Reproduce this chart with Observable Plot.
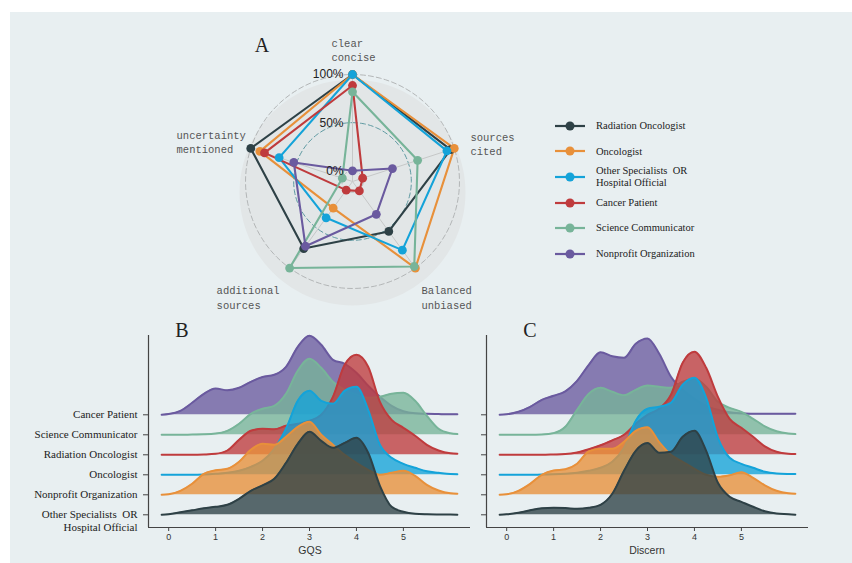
<!DOCTYPE html>
<html>
<head>
<meta charset="utf-8">
<script src="https://cdn.jsdelivr.net/npm/d3@7"></script>
<script src="https://cdn.jsdelivr.net/npm/@observablehq/plot@0.6"></script>
<style>
html,body{margin:0;padding:0;background:#fff;}
body{width:852px;height:563px;position:relative;overflow:hidden;}
#panel{position:absolute;left:10px;top:12px;right:0;bottom:0;background:#e8eff1;}
.abs{position:absolute;}
.tag{position:absolute;font-family:"Liberation Serif",serif;font-size:20px;color:#222;line-height:1;transform:translate(-50%,-50%);}
.axt{position:absolute;font-family:"Liberation Sans",Arial,sans-serif;font-size:10.5px;color:#333;transform:translate(-50%,-50%);white-space:nowrap;}
#legend{position:absolute;left:553px;top:113px;font-family:"Liberation Serif",serif;font-size:10.5px;color:#222;}
.li{display:flex;align-items:center;height:25.6px;}
.li svg{margin-right:9px;flex:none;}
.li span{line-height:11.5px;white-space:pre;}
svg.plot, .abs svg{background:transparent !important;overflow:visible;}
</style>
</head>
<body>
<div id="panel"></div>
<div id="radar" class="abs" style="left:152px;top:16px"></div>
<div id="legend"></div>
<div id="ridgeB" class="abs" style="left:20px;top:325px"></div>
<div id="ridgeC" class="abs" style="left:476px;top:325px"></div>
<div class="tag" style="left:262px;top:45px">A</div>
<div class="tag" style="left:182px;top:330px">B</div>
<div class="tag" style="left:530px;top:330px">C</div>
<div class="axt" style="left:310px;top:550px">GQS</div>
<div class="axt" style="left:647px;top:550px">Discern</div>
<script>
// ---------- Radar (A) data ----------
const axisLabels = ["clear\nconcise", "sources\ncited", "Balanced\nunbiased", "additional\nsources", "uncertainty\nmentioned"];
const gridLevels = [0, 0.5, 1];
const gridLabels = ["0%", "50%", "100%"];
const groupNames = ["Radiation Oncologist", "Oncologist", "Other Specialists\u00a0 OR\nHospital Official", "Cancer Patient", "Science Communicator", "Nonprofit Organization"];
const groupColors = ["#2e4146", "#e8903a", "#14a3d9", "#bf3b3d", "#77b499", "#6a5a9f"];
const radiationOncologist   = [1.00, 0.96, 0.53, 0.75, 1.00];
const oncologist            = [1.00, 1.00, 1.00, 0.23, 0.90];
const otherSpecialists      = [1.00, 0.92, 0.77, 0.355, 0.69];
const cancerPatient         = [0.886, 0.00, 0.01, 0.00, 0.85];
const scienceCommunicator   = [0.82, 0.60, 0.98, 1.00, 0.00];
const nonprofitOrganization = [0.00, 0.325, 0.31, 0.72, 0.53];
const radarValues = [radiationOncologist, oncologist, otherSpecialists, cancerPatient, scienceCommunicator, nonprofitOrganization];

// ---------- Ridgeline (B, C) data ----------
const scoreGrid = [-0.15,0,0.25,0.5,0.75,1,1.25,1.5,1.75,2,2.25,2.5,2.75,3,3.25,3.5,3.75,4,4.25,4.5,4.75,5,5.25,5.5,5.75,6,6.15];
const scoreTicks = [0, 1, 2, 3, 4, 5];
const ridgeLabels = ["Other Specialists\u00a0 OR\nHospital Official", "Nonprofit Organization", "Oncologist", "Radiation Oncologist", "Science Communicator", "Cancer Patient"];
const ridgeColors = ["#2e4146", "#e8903a", "#14a3d9", "#bf3b3d", "#77b499", "#6a5a9f"];

const gqsOtherSpecialists   = [0,0.5,2.5,4.5,6.5,8,10,16,24,29.5,36,52,71,83,74,67,72,77,62,29,8,3,1,0.5,0.3,0.2,0];
const gqsNonprofit          = [0,0.5,4,11,21,24.5,26,33,45,51,50,58,68,73,60,50,40,32,25,20,22,24,19,10,4.3,1.5,1];
const gqsOncologist         = [0,0,0,0,0.3,1,2,4,8,14,26,46,74,84,74,71,84,88,65,30,17,11,7,3.5,2,0.7,0.5];
const gqsRadiationOnc       = [0,0,0,0,0.3,1,4.3,15,24,26,25.5,29,31,34,40,58,90,100,88,53,35,27,19,10,4.3,1.5,1];
const gqsScienceComm        = [0,0,0,0.3,0.5,1.2,4,11,21,26,29,41,64,76,67,53,45,40,37,38,41,42,34,19,6,1.5,0.7];
const gqsCancerPatient      = [0,0.7,4,12,21,26.3,24.5,27,33,37.8,40,48,68,79,70,55,51,42,29,18,9,3.5,1.5,1,0.7,0.5,0.5];

const discernOtherSpecialists = [0,0.5,2,4.5,6.5,7,6.7,6,7,10,21,44,64,71.7,62,63,78,84,64,32,18,13,8,3.5,1.2,0.5,0];
const discernNonprofit        = [0,0.5,4,11,20,24.3,25.5,31,43.5,46,46,53,64,67.6,52.6,40,33,26,20,18,19.5,22.6,17,9.5,4,1.5,1];
const discernOncologist       = [0,0,0,0,0.3,0.5,1,2,4,7,13,27,54,66,68,72,90,97,77,37,17,11,7,3,1.3,0.8,0.7];
const discernRadiationOnc     = [0,0,0,0,0,0.3,0.7,2.3,5.5,9.5,14.5,20,31,40,46,60,92,103,87,58,36,27,18,8.5,3,1,0.7];
const discernScienceComm      = [0,0,0,0,0.3,1.7,8,25,41,47,43,39.5,45,49.3,48,47,53,56,48,33,27,23,16,8.5,3.5,1.2,0.7];
const discernCancerPatient    = [0,0.5,3,8,15,19,23.5,34,50,62.5,58.5,57,71,76.3,61,38,25,16,9,5,2.5,1.5,1,1,1,1,1];

const gqsRows = [gqsOtherSpecialists, gqsNonprofit, gqsOncologist, gqsRadiationOnc, gqsScienceComm, gqsCancerPatient];
const discernRows = [discernOtherSpecialists, discernNonprofit, discernOncologist, discernRadiationOnc, discernScienceComm, discernCancerPatient];

// ---------- Radar chart ----------
(function () {
  const OFF = 0.111;          // centre offset (ggradar style)
  const PXU = 96.3;           // pixels per radial unit
  const W = 400, H = 330, CX = 200, CY = 165;
  const rad = v => v + OFF;
  const n = axisLabels.length;
  const theta = i => i * 2 * Math.PI / n;
  const polar = (r, t) => ({x: r * Math.sin(t), y: r * Math.cos(t)});
  const circle = (r, cy = 0) => d3.range(120).map(k => { const p = polar(r, k * 2 * Math.PI / 120); return {x: p.x, y: p.y + cy}; });

  const pts = [];
  radarValues.forEach((vals, gi) => vals.forEach((v, i) => pts.push({gi, ...polar(rad(v), theta(i))})));

  const labR = 1.288;
  const lab = (i) => [{...polar(labR, theta(i)), t: axisLabels[i]}];
  const labFont = {fontFamily: "Liberation Mono, monospace", fontSize: 10.5, fill: "#555", textAnchor: "start", lineHeight: 1.4};

  const marks = [
    Plot.line(circle(1.173, -0.114), {x: "x", y: "y", curve: "linear-closed", fill: "#e2e6e7", stroke: "none"}),
    ...gridLevels.map(l => Plot.line(circle(rad(l)), {x: "x", y: "y", curve: "linear-closed",
        stroke: l === 0.5 ? "#5f9aa2" : "#b3b6b7", strokeDasharray: "5,3", strokeWidth: 1})),
    Plot.link(axisLabels, {x1: 0, y1: 0, x2: (d, i) => polar(rad(1), theta(i)).x, y2: (d, i) => polar(rad(1), theta(i)).y, stroke: "#c6c8c8", strokeWidth: 1}),
    ...radarValues.map((vals, gi) => Plot.line(pts.filter(p => p.gi === gi), {x: "x", y: "y", curve: "linear-closed", stroke: groupColors[gi], strokeWidth: 2.1})),
    Plot.dot(pts, {x: "x", y: "y", fill: p => groupColors[p.gi], r: 4.4}),
    Plot.text(gridLevels, {x: 0, y: l => rad(l), text: (l, i) => gridLabels[i], dx: -9, textAnchor: "end", fontSize: 12, fontFamily: "Liberation Sans, Arial, sans-serif", fill: "#222"}),
    Plot.text(lab(0), {x: "x", y: "y", text: "t", lineAnchor: "bottom", dx: -21, dy: 4, ...labFont}),
    Plot.text(lab(1), {x: "x", y: "y", text: "t", lineAnchor: "middle", ...labFont}),
    Plot.text(lab(2), {x: "x", y: "y", text: "t", lineAnchor: "top", dx: -4, dy: 2, ...labFont}),
    Plot.text(lab(3), {x: "x", y: "y", text: "t", lineAnchor: "top", dx: -63, dy: 2, ...labFont}),
    Plot.text(lab(4), {x: "x", y: "y", text: "t", lineAnchor: "middle", dx: -58, dy: -2, ...labFont})
  ];

  const chart = Plot.plot({
    width: W, height: H, margin: 0,
    x: {domain: [-CX / PXU, (W - CX) / PXU], axis: null},
    y: {domain: [-(H - CY) / PXU, CY / PXU], axis: null},
    color: {type: "identity"},
    style: {background: "transparent", overflow: "visible"},
    marks
  });
  document.getElementById("radar").append(chart);
})();

// ---------- Legend ----------
(function () {
  const lg = d3.select("#legend");
  groupNames.forEach((name, i) => {
    const row = lg.append("div").attr("class", "li");
    const s = row.append("svg").attr("width", 34).attr("height", 12);
    s.append("line").attr("x1", 2).attr("x2", 32).attr("y1", 6).attr("y2", 6).attr("stroke", groupColors[i]).attr("stroke-width", 2.2);
    s.append("circle").attr("cx", 17).attr("cy", 6).attr("r", 4.5).attr("fill", groupColors[i]);
    row.append("span").text(name);
  });
})();

// ---------- Ridgelines ----------
function ridgePlot(rows, showLabels, marginLeft) {
  const SP = 20;                 // vertical spacing between ridges
  const xDom = [-0.43, 6.43];
  const yDom = [-12.7, 179.3];
  const marks = [];
  for (let i = rows.length - 1; i >= 0; i--) {
    const d = scoreGrid.map((x, j) => ({x, base: i * SP, top: i * SP + rows[i][j]}));
    marks.push(Plot.areaY(d, {x: "x", y1: "base", y2: "top", fill: ridgeColors[i], fillOpacity: 0.78, curve: "monotone-x"}));
    marks.push(Plot.lineY(d, {x: "x", y: "top", stroke: ridgeColors[i], strokeWidth: 2, curve: "monotone-x"}));
  }
  marks.push(Plot.ruleX([xDom[0]], {stroke: "#444", strokeWidth: 1.2}));
  marks.push(Plot.ruleY([yDom[0]], {stroke: "#444", strokeWidth: 1.2}));
  marks.push(Plot.axisX({ticks: scoreTicks, tickFormat: d3.format("d"), tickSize: 4, tickPadding: 2, fontSize: 9, label: null, stroke: "#444"}));
  marks.push(Plot.axisY({ticks: ridgeLabels.map((_, i) => i * SP), tickSize: 5, tickFormat: () => "", label: null, stroke: "#444"}));
  if (showLabels) {
    marks.push(Plot.text(ridgeLabels, {x: xDom[0], y: (d, i) => i * SP, text: d => d, textAnchor: "end", lineAnchor: "top",
      dx: -11, dy: -6, fontSize: 11, fontFamily: "Liberation Serif, serif", fill: "#222", lineHeight: 1.2}));
  }
  return Plot.plot({
    width: marginLeft + 322 + 10, height: 235,
    marginLeft, marginRight: 10, marginTop: 10, marginBottom: 33,
    x: {domain: xDom},
    y: {domain: yDom},
    style: {background: "transparent", color: "#333", fontFamily: "Liberation Sans, Arial, sans-serif", overflow: "visible"},
    marks
  });
}
document.getElementById("ridgeB").append(ridgePlot(gqsRows, true, 128));
document.getElementById("ridgeC").append(ridgePlot(discernRows, false, 10));
</script>
</body>
</html>
